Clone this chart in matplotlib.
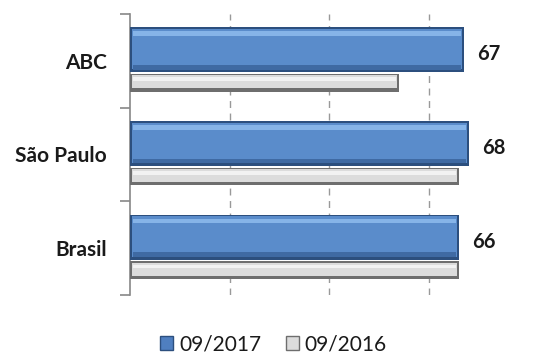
import matplotlib.pyplot as plt
from matplotlib.patches import Patch

categories = ['ABC', 'São Paulo', 'Brasil']
values_2017 = [67, 68, 66]
values_2016 = [54, 66, 66]
series_names = ['09/2017', '09/2016']

plt.rcParams['font.family'] = ['Lato', 'DejaVu Sans']

fig = plt.figure(figsize=(5.47, 3.56), dpi=100)
ax = fig.add_axes([0.2377, 0.171, 0.728, 0.79])

pos = list(range(len(categories)))
blue_y = [p + 0.38 for p in pos]
gray_y = [p + 0.735 for p in pos]

# blue bars with a simple bevel look
ax.barh(blue_y, values_2017, height=0.48, color='#2c4f7e', zorder=3)
ax.barh([y - 0.005 for y in blue_y], [v - 0.6 for v in values_2017], height=0.43,
        left=0.3, color='#5a8ccb', zorder=4)
ax.barh([y - 0.17 for y in blue_y], [v - 1.2 for v in values_2017], height=0.05,
        left=0.6, color='#86b4e8', zorder=5)
ax.barh([y + 0.19 for y in blue_y], [v - 1.2 for v in values_2017], height=0.05,
        left=0.6, color='#3f6aa3', zorder=5)

# gray bars
ax.barh(gray_y, values_2016, height=0.19, color='#6e6e6e', zorder=3)
ax.barh([y - 0.01 for y in gray_y], [v - 0.6 for v in values_2016], height=0.14,
        left=0.3, color='#dcdcdc', zorder=4)
ax.barh([y - 0.04 for y in gray_y], [v - 1.2 for v in values_2016], height=0.04,
        left=0.6, color='#f2f2f2', zorder=5)

for y, v in zip(blue_y, values_2017):
    ax.text(v + 2.8, y + 0.05, str(v), va='center', ha='left', fontsize=14.5,
            fontweight='bold', color='#1a1a1a')

for p, name in zip(pos, categories):
    ax.text(-4.6, p + 0.52, name, va='center', ha='right',
            fontsize=15, fontweight='bold', color='#1a1a1a')

ax.set_xlim(0, 80)
ax.set_ylim(3, 0)
ax.set_xticks([20, 40, 60])
ax.xaxis.grid(True, linestyle=(0, (5, 4)), color='#999999', linewidth=1, zorder=0)
ax.tick_params(axis='x', length=0, labelbottom=False)
ax.set_yticks([0, 1, 2, 3])
ax.set_yticklabels([])
ax.tick_params(axis='y', length=7, direction='out', color='#888888', width=1.2)

for side in ['top', 'right', 'bottom']:
    ax.spines[side].set_visible(False)
ax.spines['left'].set_color('#888888')
ax.spines['left'].set_linewidth(1.2)

handles = [Patch(facecolor='#4f7fc0', edgecolor='#2c4f7e'),
           Patch(facecolor='#dcdcdc', edgecolor='#6e6e6e')]
fig.legend(handles, series_names, loc='center', bbox_to_anchor=(0.5, 0.033),
           ncol=2, frameon=False, fontsize=15, handlelength=0.6, handleheight=0.6,
           handletextpad=0.3, columnspacing=1.2, labelcolor='#1a1a1a')

fig.savefig('out.png', dpi=100)
